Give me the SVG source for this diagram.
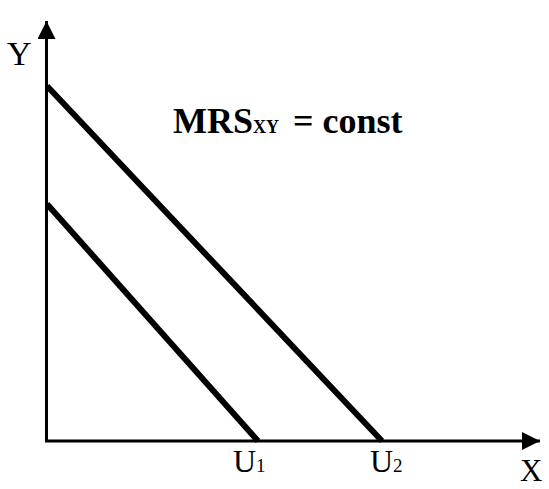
<svg xmlns="http://www.w3.org/2000/svg" width="549" height="489" viewBox="0 0 549 489">
<style>
.axis{stroke:#000;stroke-width:3;fill:none}
.curve{stroke:#000;stroke-width:6;fill:none;stroke-linecap:butt}
.lbl{font-family:"Liberation Serif","DejaVu Serif",serif;fill:#000}
</style>
<defs>
<marker id="arr" markerUnits="userSpaceOnUse" markerWidth="20" markerHeight="20" refX="18" refY="9" orient="auto">
<path d="M0,0 L18,9 L0,18 Z" fill="#000"/>
</marker>
</defs>
<rect width="549" height="489" fill="#fff"/>
<g id="connectors">
<path class="axis" d="M46.5,441 L46.5,21" marker-end="url(#arr)"/>
<path class="axis" d="M45,441 L540,441" marker-end="url(#arr)"/>
</g>
<g id="U1">
<line class="curve" x1="47" y1="204" x2="258" y2="441"/>
<text class="lbl" x="233" y="472" font-size="32">U<tspan font-size="19">1</tspan></text>
</g>
<g id="U2">
<line class="curve" x1="47" y1="86" x2="382" y2="441"/>
<text class="lbl" x="370" y="472" font-size="32">U<tspan font-size="19">2</tspan></text>
</g>
<g id="axis-labels">
<text class="lbl" x="7" y="65" font-size="34">Y</text>
<text class="lbl" x="520" y="481" font-size="31">X</text>
</g>
<g id="title">
<text class="lbl" x="173" y="133" font-size="36" font-weight="bold">MRS<tspan font-size="18">XY</tspan><tspan x="293">= const</tspan></text>
</g>
</svg>
